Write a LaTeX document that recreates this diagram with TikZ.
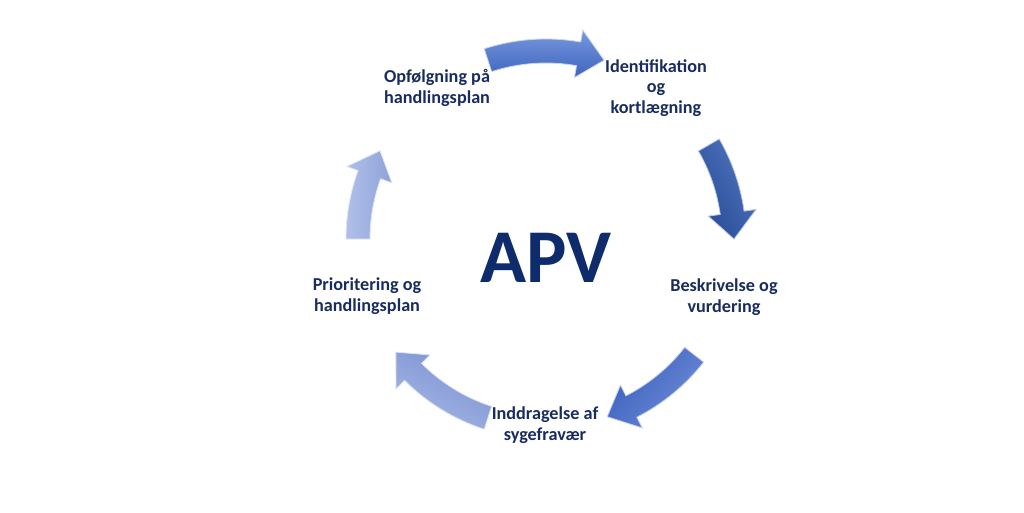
\documentclass[tikz,border=0pt]{standalone}
\usepackage{fontspec}
\setmainfont{Carlito}
\definecolor{labelcol}{RGB}{24,44,96}
\definecolor{apvcol}{RGB}{14,44,108}
\definecolor{aoneA}{RGB}{120,152,222}
\definecolor{aoneB}{RGB}{62,100,190}
\definecolor{atwoA}{RGB}{80,116,190}
\definecolor{atwoB}{RGB}{40,76,150}
\definecolor{athreeA}{RGB}{110,140,214}
\definecolor{athreeB}{RGB}{58,96,190}
\definecolor{afourA}{RGB}{165,182,228}
\definecolor{afourB}{RGB}{122,146,210}
\definecolor{afiveA}{RGB}{178,192,232}
\definecolor{afiveB}{RGB}{140,162,218}
\newcommand\cyclearrow[5]{%
  % #1 tail angle, #2 tip angle, #3 colour A, #4 colour B, #5 shading angle
  \pgfmathsetmacro\hb{#2+8}%
  \shade[top color=#3, bottom color=#4, shading angle=#5,
         draw=white!60!#3, line width=0.8pt, line join=miter]
    (#1:200) arc[start angle=#1, end angle=\hb, radius=200]
    -- (\hb:212) -- (#2:188) -- (\hb:164) -- (\hb:176)
    arc[start angle=\hb, end angle=#1, radius=176] -- cycle;}
\tikzset{
  lbl/.style={text=labelcol, font=\fontsize{18.2}{20.5}\selectfont\bfseries, align=center, inner sep=0pt},
  apv/.style={text=apvcol, font=\fontsize{76}{80}\selectfont\bfseries, inner sep=0pt}
}
\begin{document}
\begin{tikzpicture}[x=1pt,y=1pt]
\useasboundingbox[fill=white] (0,0) rectangle (1024,512);
\begin{scope}[shift={(546,273)}]
  \cyclearrow{108}{72}{aoneA}{aoneB}{0}
  \cyclearrow{30}{0}{atwoA}{atwoB}{-60}
  \cyclearrow{-38}{-71}{athreeA}{athreeB}{-130}
  \cyclearrow{-108}{-143}{afourA}{afourB}{150}
  \cyclearrow{180}{152}{afiveA}{afiveB}{90}
\end{scope}
\node[apv, anchor=base] (apv) at (546,230) {APV};
\node[lbl] (ident) at (656,424) {Identifikation\\og\\kortlægning};
\node[lbl] (besk) at (724,215) {Beskrivelse og\\vurdering};
\node[lbl] (indd) at (545,87) {Inddragelse af\\sygefravær};
\node[lbl] (prior) at (367,216) {Prioritering og\\handlingsplan};
\node[lbl] (opf) at (437,424) {Opfølgning på\\handlingsplan};
\end{tikzpicture}
\end{document}
